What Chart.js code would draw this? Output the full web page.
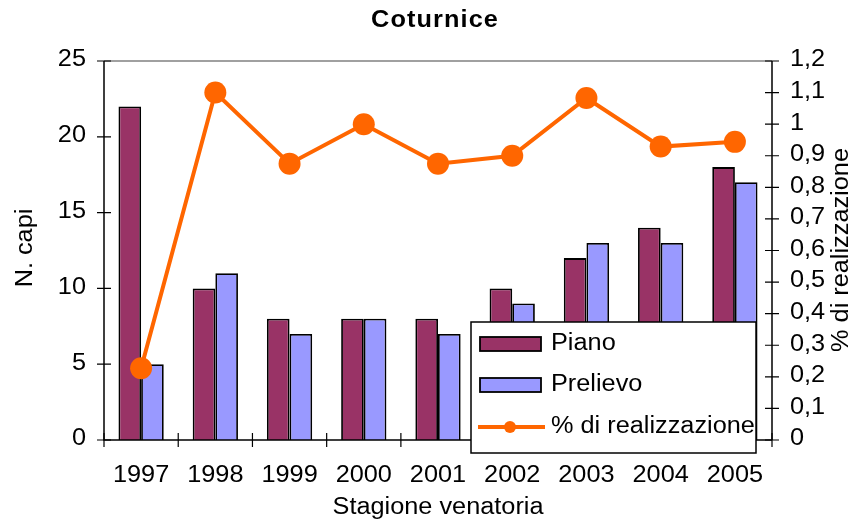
<!DOCTYPE html>
<html>
<head>
<meta charset="utf-8">
<script src="https://cdn.jsdelivr.net/npm/chart.js@4/dist/chart.umd.min.js"></script>
<style>
  html,body{margin:0;padding:0;background:#fff;}
  #wrap{width:854px;height:527px;}
</style>
</head>
<body>
<div id="wrap"><canvas id="c" width="854" height="527"></canvas></div>
<script>
// Coturnice: piano di prelievo vs capi prelevati
const stagioni = ['1997','1998','1999','2000','2001','2002','2003','2004','2005'];
const piano = [22, 10, 8, 8, 8, 10, 12, 14, 18];
const prelievo = [5, 11, 7, 8, 7, 9, 13, 13, 17];
const realizzazione = [0.227, 1.1, 0.875, 1.0, 0.875, 0.9, 1.083, 0.929, 0.944];

const FONT = '"Liberation Sans", Arial, sans-serif';
const C_PIANO = '#993366', C_PREL = '#9999FF', C_PERC = '#FF6600';
const SX = 1.1; // testo leggermente allargato

function txt(ctx, s, x, y, align, font, rot){
  ctx.save();
  ctx.font = font;
  ctx.textAlign = align; ctx.textBaseline = 'middle';
  ctx.translate(x, y);
  if(rot) ctx.rotate(rot);
  ctx.scale(SX, 1);
  ctx.fillText(s, 0, 0);
  ctx.restore();
}
const fmtPerc = v => String(Math.round(v*10)/10).replace('.', ',');

// assi, etichette, titoli e legenda disegnati a mano
const decor = {
  id: 'decor',
  afterDatasetsDraw(chart){
    const {ctx, chartArea:a, scales} = chart;
    const F = '23px ' + FONT;
    ctx.save();
    // bordo superiore area grafico
    ctx.strokeStyle = '#808080'; ctx.lineWidth = 1.5;
    ctx.beginPath(); ctx.moveTo(a.left, a.top); ctx.lineTo(a.right, a.top); ctx.stroke();
    // assi
    ctx.strokeStyle = '#000'; ctx.lineWidth = 1.5;
    ctx.beginPath();
    ctx.moveTo(a.left, a.top); ctx.lineTo(a.left, a.bottom); ctx.lineTo(a.right, a.bottom);
    ctx.moveTo(a.right, a.top); ctx.lineTo(a.right, a.bottom);
    ctx.stroke();
    ctx.lineWidth = 1.2;
    ctx.beginPath();
    scales.y.ticks.forEach((t,i)=>{ const y = scales.y.getPixelForTick(i); ctx.moveTo(a.left-7, y); ctx.lineTo(a.left+7, y); });
    scales.y2.ticks.forEach((t,i)=>{ const y = scales.y2.getPixelForTick(i); ctx.moveTo(a.right-7, y); ctx.lineTo(a.right+7, y); });
    const bw = (a.right - a.left)/stagioni.length;
    for(let i=0;i<=stagioni.length;i++){ const x = a.left + i*bw; ctx.moveTo(x, a.bottom-7); ctx.lineTo(x, a.bottom+7); }
    ctx.stroke();

    // etichette delle tacche
    ctx.fillStyle = '#000';
    scales.y.ticks.forEach((t,i)=> txt(ctx, String(t.value), a.left-18, scales.y.getPixelForTick(i)-1, 'right', F));
    scales.y2.ticks.forEach((t,i)=> txt(ctx, fmtPerc(t.value), a.right+18, scales.y2.getPixelForTick(i)-1, 'left', F));
    stagioni.forEach((s,i)=> txt(ctx, s, scales.x.getPixelForTick(i), 476, 'center', F));

    // titoli
    ctx.save(); ctx.font = 'bold 23px ' + FONT; ctx.letterSpacing = '1px';
    txt(ctx, 'Coturnice', 435, 21, 'center', 'bold 23px ' + FONT);
    ctx.restore();
    txt(ctx, 'Stagione venatoria', 438, 508, 'center', F);
    txt(ctx, 'N. capi', 26, 248, 'center', F, -Math.PI/2);
    txt(ctx, '% di realizzazione', 842, 250, 'center', F, -Math.PI/2);

    // legenda
    const lx = 471, ly = 322, lw = 285, lh = 131;
    ctx.fillStyle = '#fff'; ctx.fillRect(lx, ly, lw, lh);
    ctx.strokeStyle = '#000'; ctx.lineWidth = 1.5; ctx.strokeRect(lx, ly, lw, lh);
    const rows = [344, 385, 427];
    chart.data.datasets.forEach((ds, i)=>{
      const y = rows[i];
      if(ds.type === 'line'){
        ctx.strokeStyle = ds.borderColor; ctx.lineWidth = 4;
        ctx.beginPath(); ctx.moveTo(478, y); ctx.lineTo(545, y); ctx.stroke();
        ctx.fillStyle = ds.borderColor;
        ctx.beginPath(); ctx.arc(510, y, 6, 0, Math.PI*2); ctx.fill();
      } else {
        ctx.fillStyle = ds.backgroundColor; ctx.fillRect(480, y-7, 61, 14);
        ctx.strokeStyle = '#000'; ctx.lineWidth = 1.8; ctx.strokeRect(480, y-7, 61, 14);
      }
      ctx.fillStyle = '#000';
      txt(ctx, ds.label, 551, y, 'left', F);
    });
    ctx.restore();
  }
};

new Chart(document.getElementById('c'), {
  data: {
    labels: stagioni,
    datasets: [
      {type:'bar', label:'Piano', data:piano, backgroundColor:C_PIANO, borderColor:'#000', borderWidth:1.8, yAxisID:'y', order:2,
       categoryPercentage:0.61, barPercentage:1},
      {type:'bar', label:'Prelievo', data:prelievo, backgroundColor:C_PREL, borderColor:'#000', borderWidth:1.8, yAxisID:'y', order:2,
       categoryPercentage:0.61, barPercentage:1},
      {type:'line', label:'% di realizzazione', data:realizzazione, borderColor:C_PERC, backgroundColor:C_PERC, borderWidth:4,
       pointRadius:11, pointHoverRadius:11, pointBackgroundColor:C_PERC, pointBorderWidth:0, yAxisID:'y2', order:1, tension:0}
    ]
  },
  options: {
    responsive:false, animation:false, devicePixelRatio:1,
    layout:{padding:{top:61, left:0, right:0, bottom:0}},
    plugins:{legend:{display:false}, title:{display:false}, tooltip:{enabled:false}},
    scales:{
      x:{
        grid:{display:false, drawTicks:false}, border:{display:false},
        ticks:{display:false},
        afterFit(s){ s.height = 87; }
      },
      y:{
        position:'left', min:0, max:25,
        grid:{display:false, drawTicks:false}, border:{display:false},
        ticks:{display:false, stepSize:5},
        afterFit(s){ s.width = 104; }
      },
      y2:{
        position:'right', min:0, max:1.2,
        grid:{display:false, drawTicks:false}, border:{display:false},
        ticks:{display:false, stepSize:0.1},
        afterFit(s){ s.width = 82; }
      }
    }
  },
  plugins:[decor]
});
</script>
</body>
</html>
